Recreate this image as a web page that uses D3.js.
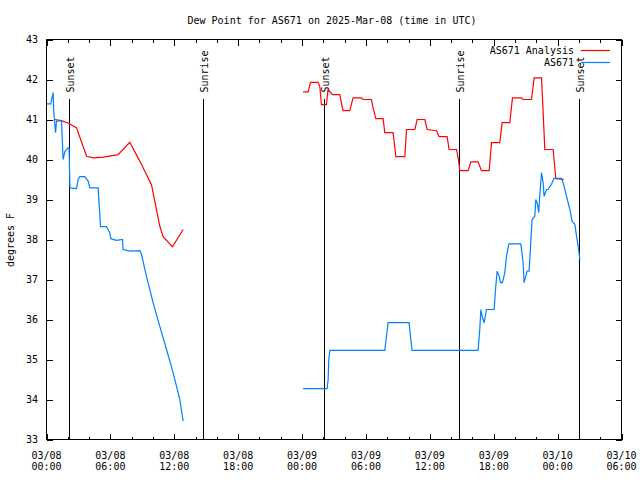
<!DOCTYPE html>
<html><head><meta charset="utf-8">
<script src="https://cdn.jsdelivr.net/npm/d3@7"></script>
<style>
html,body{margin:0;padding:0;background:#fff;}
text{font-family:"DejaVu Sans Mono","Liberation Mono",monospace;font-size:10px;fill:#000;}
</style></head>
<body><svg id="c" width="640" height="480"></svg>
<script>
// hours since 2025-03-08 00:00 UTC
const analysisHours = [0.78,1.41,2.12,2.82,3.76,4.38,5.32,6.72,7.82,8.76,9.86,10.64,10.95,11.83,12.83,
  null,
  24.10,24.57,24.79,25.51,25.67,25.82,26.29,26.44,26.86,27.54,27.85,28.48,28.79,29.58,29.73,30.52,30.67,30.93,31.61,31.77,32.55,32.81,33.65,33.81,34.59,34.81,35.53,35.75,36.63,36.87,37.62,37.81,38.50,38.66,38.82,39.60,39.85,40.53,40.85,41.57,41.79,42.57,42.79,43.51,43.76,44.61,44.76,45.55,45.79,46.49,46.80,47.58,47.83,48.58];
const analysisValues = [41.0,40.97,40.9,40.79,40.08,40.04,40.06,40.12,40.43,39.96,39.37,38.33,38.07,37.82,38.25,
  null,
  41.69,41.69,41.93,41.93,41.82,41.37,41.37,41.75,41.62,41.62,41.22,41.22,41.54,41.54,41.5,41.5,41.29,41.02,41.02,40.67,40.67,40.07,40.07,40.75,40.75,41.0,41.0,40.75,40.72,40.57,40.57,40.25,40.25,40.04,39.72,39.72,39.94,39.94,39.72,39.72,40.42,40.42,40.92,40.92,41.54,41.54,41.5,41.5,42.04,42.04,40.25,40.25,39.52,39.5];
const obsHours = [0.00,0.40,0.62,0.69,0.85,0.94,1.41,1.56,1.72,2.03,2.12,2.20,2.82,2.97,3.13,3.60,3.91,4.07,4.85,5.07,5.63,5.94,6.04,6.57,7.14,7.19,7.82,8.76,8.92,9.39,10.01,10.64,11.27,11.89,12.52,12.83,
  null,
  24.10,26.35,26.45,26.51,26.61,31.77,31.93,32.08,34.05,34.18,34.33,40.53,40.69,40.79,40.91,41.10,41.32,42.04,42.17,42.32,42.51,42.64,42.82,43.04,43.20,43.42,44.54,44.67,44.76,44.85,45.01,45.14,45.32,45.48,45.60,45.86,45.95,46.11,46.23,46.33,46.49,46.64,46.73,46.96,47.11,47.27,47.43,47.65,48.37,48.52,48.84,49.15,49.36,49.62,49.78,49.93,50.09];
const obsValues = [41.39,41.39,41.67,41.17,40.67,40.96,40.97,40.0,40.2,40.29,40.29,39.29,39.27,39.5,39.57,39.57,39.46,39.29,39.29,38.32,38.32,38.17,38.02,37.98,38.0,37.75,37.71,37.72,37.63,37.08,36.42,35.83,35.25,34.67,34.0,33.46,
  null,
  34.27,34.27,34.5,35.0,35.23,35.23,35.58,35.92,35.92,35.58,35.23,35.23,35.75,36.25,36.08,35.92,36.25,36.25,36.75,37.21,37.08,36.92,36.92,37.17,37.58,37.89,37.89,37.63,37.42,36.92,37.08,37.21,37.21,37.92,38.5,38.58,39.0,38.88,38.67,39.13,39.67,39.42,39.08,39.25,39.25,39.33,39.38,39.53,39.53,39.42,39.08,38.75,38.46,38.38,38.08,37.83,37.5];
const sunEventHours = [2.12,14.77,26.07,38.75,50.10];
const sunEventLabels = ["Sunset","Sunrise","Sunset","Sunrise","Sunset"];
const yTicks = [33,34,35,36,37,38,39,40,41,42,43];
const seriesNames = ["AS671 Analysis","AS671"];
const seriesColors = ["#ff0000","#0080ff"];
const titleText = "Dew Point for AS671 on 2025-Mar-08 (time in UTC)";
const yLabel = "degrees F";

const t0 = Date.UTC(2025,2,8,0,0);
const toDate = h => h == null ? null : new Date(t0 + h*3600e3);

const svg = d3.select("#c");
const g = svg.append("g").attr("transform","translate(0.5,0.5)");
const L=46, R=621, T=39, B=439;
const x = d3.scaleUtc().domain([new Date(t0), new Date(t0+54*3600e3)]).range([L,R]);
const y = d3.scaleLinear().domain([33,43]).range([B,T]);

const minorTicks = d3.range(0,55,2).map(toDate);
const majorTicks = d3.range(0,55,6).map(toDate);

function styleAxis(sel){ sel.select(".domain").remove(); sel.selectAll("line").attr("stroke","#000").attr("shape-rendering","crispEdges"); sel.selectAll("text").remove(); }

g.append("g").attr("transform",`translate(0,${B})`).call(d3.axisBottom(x).tickValues(minorTicks).tickSize(-3)).call(styleAxis);
g.append("g").attr("transform",`translate(0,${B})`).call(d3.axisBottom(x).tickValues(majorTicks).tickSize(-6)).call(styleAxis);
g.append("g").attr("transform",`translate(0,${T})`).call(d3.axisTop(x).tickValues(minorTicks).tickSize(-3)).call(styleAxis);
g.append("g").attr("transform",`translate(0,${T})`).call(d3.axisTop(x).tickValues(majorTicks).tickSize(-6)).call(styleAxis);
g.append("g").attr("transform",`translate(${L},0)`).call(d3.axisLeft(y).tickValues(yTicks).tickSize(-6)).call(styleAxis);
g.append("g").attr("transform",`translate(${R},0)`).call(d3.axisRight(y).tickValues(yTicks).tickSize(-6)).call(styleAxis);

// tick labels
const fmtD = d3.utcFormat("%m/%d"), fmtT = d3.utcFormat("%H:%M");
const xl = svg.append("g").selectAll("text").data(majorTicks).join("text")
  .attr("text-anchor","middle");
xl.append("tspan").attr("x",d=>x(d)+0.5).attr("y",B+20).text(fmtD);
xl.append("tspan").attr("x",d=>x(d)+0.5).attr("y",B+31).text(fmtT);
svg.append("g").selectAll("text").data(yTicks).join("text")
  .attr("x",L-8).attr("y",d=>y(d)+0.5).attr("dy","0.35em").attr("text-anchor","end").text(d=>d);

// sun events
const ev = g.append("g").selectAll("g").data(sunEventHours).join("g");
ev.append("line").attr("x1",d=>Math.round(x(toDate(d)))).attr("x2",d=>Math.round(x(toDate(d))))
  .attr("y1",98).attr("y2",B).attr("stroke","#000").attr("shape-rendering","crispEdges");
ev.append("text").attr("transform",d=>`translate(${x(toDate(d))+1},92) rotate(-90)`)
  .attr("dy","0.35em").attr("text-anchor","start").text((d,i)=>sunEventLabels[i]);

// lines
const line = d3.line().defined(d=>d[0]!=null && d[1]!=null).x(d=>x(toDate(d[0]))).y(d=>y(d[1]));
const aData = analysisHours.map((h,i)=>[h,analysisValues[i]]);
const oData = obsHours.map((h,i)=>[h,obsValues[i]]);
g.append("path").datum(aData).attr("d",line).attr("fill","none").attr("stroke",seriesColors[0]).attr("stroke-width",1.2);
g.append("path").datum(oData).attr("d",line).attr("fill","none").attr("stroke",seriesColors[1]).attr("stroke-width",1.2);

// frame
g.append("rect").attr("x",L).attr("y",T).attr("width",R-L).attr("height",B-T).attr("fill","none").attr("stroke","#000").attr("shape-rendering","crispEdges");

// legend
const lg = svg.append("g").selectAll("g").data(seriesNames).join("g")
  .attr("transform",(d,i)=>`translate(0,${50+i*12})`);
lg.append("text").attr("x",574).attr("y",0).attr("dy","0.35em").attr("text-anchor","end").text(d=>d);
lg.append("line").attr("x1",581).attr("x2",610).attr("y1",0.5).attr("y2",0.5).attr("stroke",(d,i)=>seriesColors[i]).attr("stroke-width",1.2);

// title and axis label
svg.append("text").attr("x",332).attr("y",20).attr("dy","0.35em").attr("text-anchor","middle").text(titleText);
svg.append("text").attr("transform","translate(10,240) rotate(-90)").attr("dy","0.35em").attr("text-anchor","middle").text(yLabel);
</script></body></html>
